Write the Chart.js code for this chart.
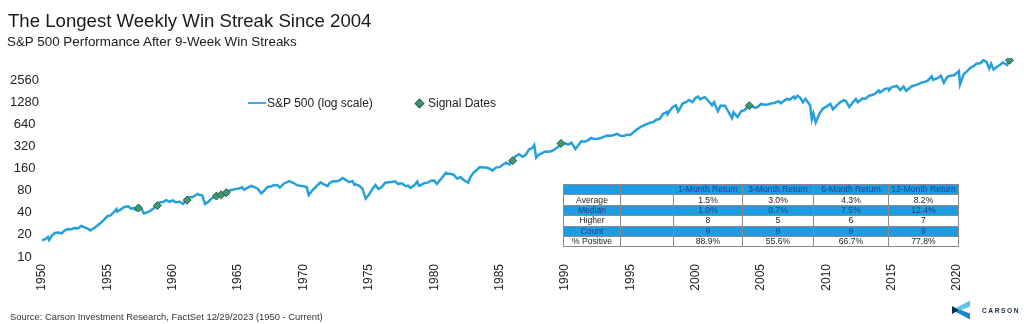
<!DOCTYPE html>
<html>
<head>
<meta charset="utf-8">
<script src="https://cdn.jsdelivr.net/npm/chart.js@4.4.1/dist/chart.umd.min.js"></script>
<style>
  html, body { margin: 0; padding: 0; background: #fff; }
  body { width: 1024px; height: 324px; position: relative; overflow: hidden; font-family: "Liberation Sans", Arial, sans-serif; }
  #wrap { position: absolute; left: 0; top: 0; width: 1024px; height: 324px; }
  .title { position: absolute; left: 8px; top: 11px; font-size: 18.6px; line-height: 19px; color: #1a1a1a; white-space: nowrap; }
  .subtitle { position: absolute; left: 7px; top: 35px; font-size: 13.4px; line-height: 14px; color: #1a1a1a; white-space: nowrap; }
  .source { position: absolute; left: 10px; top: 311px; font-size: 9.4px; line-height: 11px; color: #333; white-space: nowrap; }
  .legend { position: absolute; top: 96px; font-size: 12px; line-height: 14px; color: #222; white-space: nowrap; }
  .legline { position: absolute; left: 248px; top: 102px; width: 18px; height: 2px; background: #3aaadd; }
  .legdiamond { position: absolute; left: 416px; top: 100px; width: 5px; height: 5px; background: #3d9a6f; border: 1px solid #2b5c46; transform: rotate(45deg); }
  table.stats { position: absolute; left: 563px; top: 184px; border-collapse: collapse; font-size: 8.6px; color: #222; table-layout: fixed; }
  table.stats td { border: 1px solid #8a8a8a; height: 9.4px; padding: 0; line-height: 9px; text-align: center; overflow: hidden; white-space: nowrap; }
  table.stats tr.blue td { background: #1e9ce2; color: #1c3f8c; }
  .logo-text { position: absolute; left: 982px; top: 307px; font-size: 6.6px; font-weight: bold; letter-spacing: 1.6px; color: #1a2b48; line-height: 8px; white-space: nowrap; }
</style>
</head>
<body>
<div id="wrap"><canvas id="c" width="1024" height="324"></canvas></div>
<div class="title">The Longest Weekly Win Streak Since 2004</div>
<div class="subtitle">S&amp;P 500 Performance After 9-Week Win Streaks</div>
<div class="legline"></div>
<div class="legend" style="left:267px;">S&amp;P 500 (log scale)</div>
<div class="legdiamond"></div>
<div class="legend" style="left:428px;">Signal Dates</div>
<div id="tableHost"></div>
<div class="source">Source: Carson Investment Research, FactSet 12/29/2023 (1950 - Current)</div>
<svg style="position:absolute;left:950px;top:299px;" width="24" height="22" viewBox="950 299 24 22">
  <polygon points="952,310 970,300.5 970,306.5 961,310" fill="#5cc3ee"/>
  <polygon points="952,310 961,310 970,313.5 970,319.5" fill="#1f86c9"/>
  <polygon points="952,306 959,310 952,314" fill="#0f2b50"/>
</svg>
<div class="logo-text">CARSON</div>
<script>
// ---- Data ----
const years = [
1950.00,1950.25,1950.45,1950.55,1950.75,1951.00,1951.25,1951.50,1951.75,1952.00,1952.25,1952.50,1952.75,
1953.00,1953.25,1953.50,1953.70,1954.00,1954.25,1954.50,1954.75,1955.00,1955.25,1955.50,1955.70,1955.75,
1956.00,1956.30,1956.60,1956.80,1957.00,1957.20,1957.50,1957.80,1958.00,1958.25,1958.50,1958.75,
1959.00,1959.25,1959.50,1959.75,1960.00,1960.25,1960.50,1960.80,1961.00,1961.25,1961.50,1961.90,
1962.00,1962.25,1962.47,1962.75,1963.00,1963.25,1963.50,1963.75,1963.90,1964.00,1964.25,1964.50,1964.75,
1965.00,1965.30,1965.45,1965.75,1966.00,1966.25,1966.50,1966.77,1967.00,1967.25,1967.50,1967.75,
1968.00,1968.20,1968.50,1968.90,1969.25,1969.50,1969.75,1970.00,1970.25,1970.40,1970.60,1970.75,
1971.00,1971.30,1971.50,1971.85,1972.00,1972.25,1972.50,1972.75,1973.00,1973.25,1973.50,1973.75,1973.90,
1974.00,1974.25,1974.50,1974.76,1975.00,1975.25,1975.50,1975.75,1976.00,1976.25,1976.50,1976.75,
1977.00,1977.25,1977.50,1977.85,1978.00,1978.20,1978.50,1978.70,1978.85,1979.00,1979.25,1979.50,1979.75,
1980.00,1980.20,1980.50,1980.90,1981.00,1981.25,1981.50,1981.75,1982.00,1982.25,1982.60,1982.75,
1983.00,1983.25,1983.50,1983.75,1984.00,1984.25,1984.45,1984.75,1985.00,1985.25,1985.50,1985.75,
1986.00,1986.25,1986.50,1986.75,1987.00,1987.25,1987.50,1987.65,1987.80,1988.00,1988.25,1988.50,1988.75,
1989.00,1989.25,1989.50,1989.75,1990.00,1990.25,1990.50,1990.80,1991.00,1991.25,1991.50,1991.75,
1992.00,1992.25,1992.50,1992.75,1993.00,1993.25,1993.50,1993.75,1994.00,1994.25,1994.50,1994.75,
1995.00,1995.25,1995.50,1995.75,1996.00,1996.25,1996.50,1996.75,1997.00,1997.25,1997.50,1997.80,1997.85,
1998.00,1998.25,1998.50,1998.65,1998.75,1999.00,1999.25,1999.50,1999.75,2000.00,2000.20,2000.35,2000.50,2000.70,
2001.00,2001.25,2001.40,2001.70,2001.90,2002.00,2002.25,2002.50,2002.78,2002.90,2003.00,2003.20,2003.50,2003.75,
2004.00,2004.25,2004.60,2004.75,2005.00,2005.25,2005.50,2005.75,2006.00,2006.35,2006.50,2006.75,
2007.00,2007.20,2007.50,2007.60,2007.78,2008.00,2008.20,2008.40,2008.75,2008.88,2009.00,2009.18,2009.50,2009.75,
2010.00,2010.30,2010.50,2010.75,2011.00,2011.33,2011.50,2011.75,2012.00,2012.25,2012.40,2012.75,
2013.00,2013.25,2013.50,2013.75,2014.00,2014.10,2014.50,2014.75,2014.80,2015.00,2015.40,2015.65,2015.90,
2016.10,2016.50,2016.75,2017.00,2017.25,2017.50,2017.75,2018.05,2018.15,2018.50,2018.75,2018.98,
2019.25,2019.50,2019.75,2020.00,2020.13,2020.22,2020.50,2020.75,2021.00,2021.25,2021.50,2021.75,
2022.00,2022.25,2022.45,2022.60,2022.78,2023.00,2023.25,2023.50,2023.82,2024.00
];
const spx = [
16.9,17.5,18.7,17.0,19.5,21.2,21.5,21.0,23.0,24.1,23.8,24.9,24.5,
26.4,25.3,24.3,23.0,24.8,26.9,29.2,32.3,36.0,36.8,41.0,45.0,41.5,
44.2,48.0,49.0,45.5,46.2,43.5,48.5,39.2,40.3,42.1,45.2,49.9,
55.4,56.1,59.5,56.5,59.0,55.3,56.9,53.0,58.1,65.1,65.0,72.0,
70.5,69.0,52.5,57.0,63.1,66.5,69.1,72.5,69.5,75.6,79.0,81.7,84.0,
84.8,89.0,82.5,88.0,92.9,89.2,85.0,73.5,80.3,90.2,91.0,95.5,
95.0,88.0,99.6,108.0,101.5,95.0,93.1,92.0,89.6,69.5,78.0,83.0,
92.2,104.0,99.2,92.0,102.1,107.2,107.1,110.5,119.0,111.5,104.3,108.4,96.0,
97.6,93.9,86.0,62.5,70.2,83.4,95.2,84.0,90.2,102.8,104.3,105.2,
107.0,98.4,100.5,92.0,93.8,87.0,95.5,106.0,93.0,96.1,101.6,102.9,109.3,
110.0,98.5,114.2,140.0,135.8,136.0,131.2,116.2,122.6,111.9,102.5,120.4,
140.6,152.9,168.1,166.0,164.9,159.2,150.0,166.1,167.2,180.7,191.9,182.1,
211.3,236.6,250.8,231.3,246.5,291.7,304.0,335.0,225.0,247.1,258.9,273.5,271.9,
277.7,294.9,317.9,349.2,353.4,339.9,361.0,295.0,330.2,375.2,371.2,387.9,
417.1,403.7,408.1,416.6,435.7,451.7,448.1,458.9,475.0,445.8,444.3,462.7,
459.1,500.7,545.0,584.4,616.0,645.5,670.6,687.3,740.7,757.1,885.1,940.0,877.0,
970.4,1101.8,1160.0,957.0,1017.0,1229.2,1286.4,1372.7,1282.7,1469.3,1527.0,1400.0,1454.6,1500.0,
1320.3,1160.3,1280.0,966.0,1150.0,1148.1,1147.4,950.0,777.0,935.0,879.8,805.0,974.5,1000.0,
1111.9,1126.2,1070.0,1114.6,1211.9,1180.6,1191.3,1228.8,1248.3,1320.0,1240.0,1335.8,
1418.3,1390.0,1530.0,1430.0,1565.0,1468.4,1280.0,1420.0,1166.4,752.0,903.3,676.0,919.3,1057.1,
1115.1,1217.0,1022.0,1141.2,1257.6,1363.0,1320.6,1099.0,1257.6,1408.5,1278.0,1440.7,
1426.2,1569.2,1606.3,1681.6,1848.4,1741.0,1960.2,1972.3,1862.0,2058.9,2130.0,1867.0,2090.0,
1829.0,2098.9,2168.3,2238.8,2362.7,2423.4,2519.4,2873.0,2581.0,2718.4,2930.0,2351.0,
2834.4,2941.8,2976.7,3230.8,3386.0,2237.0,3100.3,3363.0,3756.1,3972.9,4297.5,4307.5,
4766.2,4530.4,3666.0,4280.0,3577.0,3839.5,4109.3,4450.4,4117.0,4769.8
];
const signalDates = [1957.37, 1958.82, 1961.10, 1963.34, 1963.70, 1964.10, 1986.00, 1989.70, 2004.10, 2024.00];
const signalValues = [46.5, 50.0, 59.5, 67.5, 70.5, 75.0, 205.0, 352.0, 1150.0, 4769.8];
const yTickValues = [10, 20, 40, 80, 160, 320, 640, 1280, 2560];
const xTickValues = [1950,1955,1960,1965,1970,1975,1980,1985,1990,1995,2000,2005,2010,2015,2020];

const tableHeader = ["", "", "1-Month Return", "3-Month Return", "6-Month Return", "12-Month Return"];
const tableRowLabels = ["Average", "Median", "Higher", "Count", "% Positive"];
const tableRows = [
  ["1.5%", "3.0%", "4.3%", "8.2%"],
  ["1.0%", "0.7%", "7.5%", "12.4%"],
  ["8", "5", "6", "7"],
  ["9", "9", "9", "9"],
  ["88.9%", "55.6%", "66.7%", "77.8%"]
];

// ---- Table ----
(function buildTable(){
  const widths = [57, 53, 69, 71, 75, 70];
  const t = document.createElement('table');
  t.className = 'stats';
  const cg = document.createElement('colgroup');
  widths.forEach(w => { const c = document.createElement('col'); c.style.width = w + 'px'; cg.appendChild(c); });
  t.appendChild(cg);
  const hr = document.createElement('tr');
  hr.className = 'blue';
  tableHeader.forEach(h => { const td = document.createElement('td'); td.textContent = h; hr.appendChild(td); });
  t.appendChild(hr);
  tableRowLabels.forEach((lab, i) => {
    const tr = document.createElement('tr');
    if (i % 2 === 1) tr.className = 'blue';
    const cells = [lab, ""].concat(tableRows[i]);
    cells.forEach(v => { const td = document.createElement('td'); td.textContent = v; tr.appendChild(td); });
    t.appendChild(tr);
  });
  document.getElementById('tableHost').appendChild(t);
})();

// ---- Chart ----
Chart.defaults.font.family = '"Liberation Sans", Arial, sans-serif';
Chart.defaults.color = '#222';

new Chart(document.getElementById('c'), {
  type: 'line',
  data: {
    datasets: [
      {
        label: 'S&P 500 (log scale)',
        data: years.map((x, i) => ({ x: x, y: spx[i] })),
        borderColor: '#25a0da',
        borderWidth: 2.5,
        pointRadius: 0,
        tension: 0,
        order: 2
      },
      {
        label: 'Signal Dates',
        data: signalDates.map((x, i) => ({ x: x, y: signalValues[i] })),
        showLine: false,
        pointStyle: 'rectRot',
        pointRadius: 4,
        backgroundColor: '#3d9a6f',
        borderColor: '#2b5c46',
        borderWidth: 1,
        order: 1
      }
    ]
  },
  options: {
    responsive: false,
    animation: false,
    devicePixelRatio: 1,
    layout: { padding: { top: 58, left: 4, right: 8, bottom: 30 } },
    plugins: {
      legend: { display: false },
      tooltip: { enabled: false },
      title: { display: false }
    },
    scales: {
      x: {
        type: 'linear',
        min: 1950,
        max: 2024.5,
        grid: { display: false, drawTicks: false },
        border: { display: false },
        afterBuildTicks: (s) => { s.ticks = xTickValues.map(v => ({ value: v })); },
        afterFit: (s) => { s.height = 37; },
        ticks: {
          autoSkip: false,
          minRotation: 90,
          maxRotation: 90,
          padding: 7,
          font: { size: 12 },
          color: '#222',
          callback: (v) => String(v)
        }
      },
      y: {
        type: 'logarithmic',
        min: 10,
        max: 5120,
        grid: { display: false, drawTicks: false },
        border: { display: false },
        afterBuildTicks: (s) => { s.ticks = yTickValues.map(v => ({ value: v })); },
        afterFit: (s) => { s.width = 38; },
        ticks: {
          crossAlign: 'center',
          padding: 3,
          font: { size: 13 },
          color: '#222',
          callback: (v) => String(v)
        }
      }
    }
  }
});
</script>
</body>
</html>
